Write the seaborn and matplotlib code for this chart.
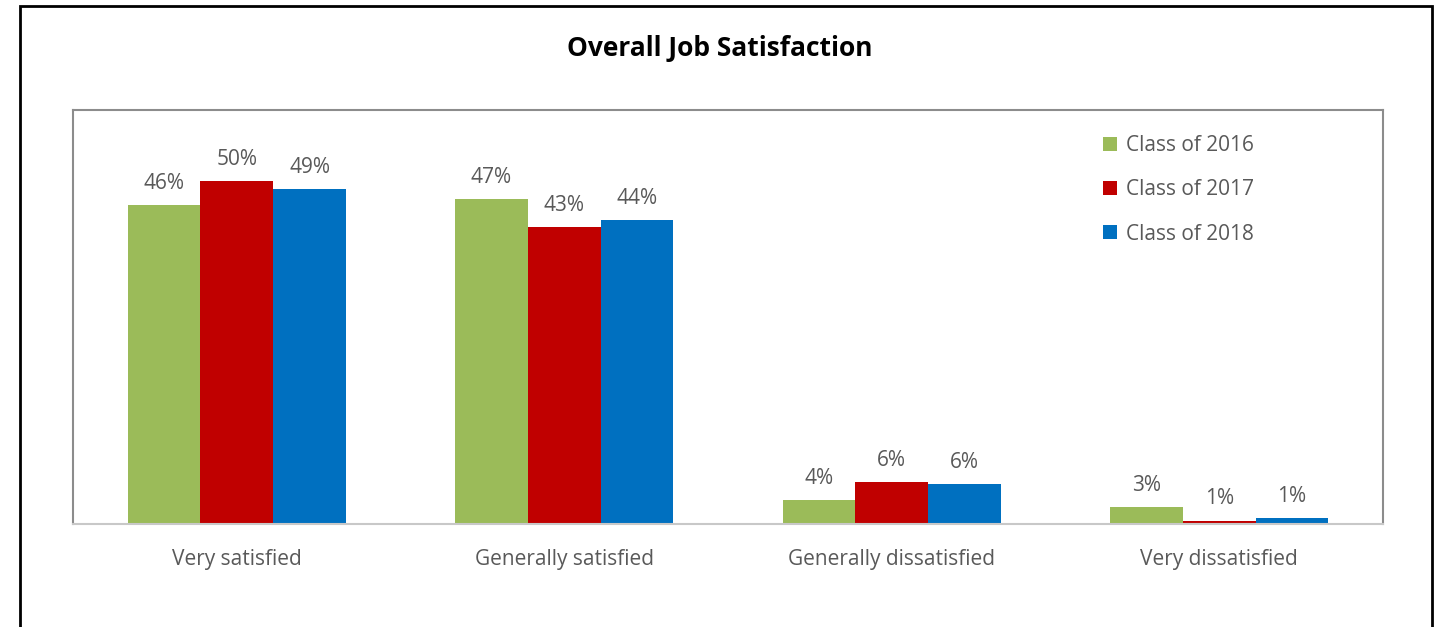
import matplotlib
matplotlib.use("Agg")
import matplotlib.pyplot as plt
import seaborn as sns
import pandas as pd
from matplotlib.patches import Rectangle

categories = ["Very satisfied", "Generally satisfied", "Generally dissatisfied", "Very dissatisfied"]
series = ["Class of 2016", "Class of 2017", "Class of 2018"]
values_2016 = [46.2, 47.1, 3.5, 2.4]
values_2017 = [49.7, 43.0, 6.1, 0.5]
values_2018 = [48.6, 44.1, 5.8, 0.9]
labels_2016 = ["46%", "47%", "4%", "3%"]
labels_2017 = ["50%", "43%", "6%", "1%"]
labels_2018 = ["49%", "44%", "6%", "1%"]
colors = ["#9BBB59", "#C00000", "#0070C0"]

sns.set_theme(style="white")
plt.rcParams['font.family'] = ['Open Sans', 'DejaVu Sans']

rows = []
for s, vals in zip(series, [values_2016, values_2017, values_2018]):
    for c, v in zip(categories, vals):
        rows.append({"Category": c, "Series": s, "Value": v})
df = pd.DataFrame(rows)

fig = plt.figure(figsize=(14.4, 6.27), dpi=100)
ax = fig.add_axes([73/1440, 1 - 524/627, (1383 - 73)/1440, (524 - 110)/627])

sns.barplot(data=df, x="Category", y="Value", hue="Series", order=categories,
            hue_order=series, palette=colors, width=2/3, gap=0, ax=ax,
            saturation=1, errorbar=None, edgecolor="none", linewidth=0)

ax.set_ylim(0, 60)
ax.set_xlim(-0.5, 3.5)
ax.set_yticks([])
ax.set_xlabel("")
ax.set_ylabel("")
ax.tick_params(axis="x", length=0, pad=18, labelsize=15, labelcolor="#595959")

for sp in ["top", "left", "right"]:
    ax.spines[sp].set_visible(True)
    ax.spines[sp].set_color("#8c8c8c")
    ax.spines[sp].set_linewidth(1.5)
ax.spines["bottom"].set_color("#c8c8c8")
ax.spines["bottom"].set_linewidth(1.5)

all_labels = [labels_2016, labels_2017, labels_2018]
for container, labs in zip(ax.containers, all_labels):
    ax.bar_label(container, labels=labs, padding=8, fontsize=15, color="#595959")

handles, lbls = ax.get_legend_handles_labels()
leg = ax.legend(handles, lbls, loc="upper left", bbox_to_anchor=(0.772, 0.985),
                frameon=False, fontsize=15, handlelength=0.65, handleheight=0.65,
                handletextpad=0.45, labelspacing=1.12, labelcolor="#595959")

fig.text(0.5, 1 - 48/627, "Overall Job Satisfaction", ha="center", va="center",
         fontsize=19, fontweight="bold", color="black")

fig.patches.append(Rectangle((20/1440, -0.1), (1432 - 20)/1440, 1.1 - 6/627,
                             transform=fig.transFigure, fill=False,
                             edgecolor="black", linewidth=2, clip_on=False))

fig.savefig("out.png", dpi=100)
